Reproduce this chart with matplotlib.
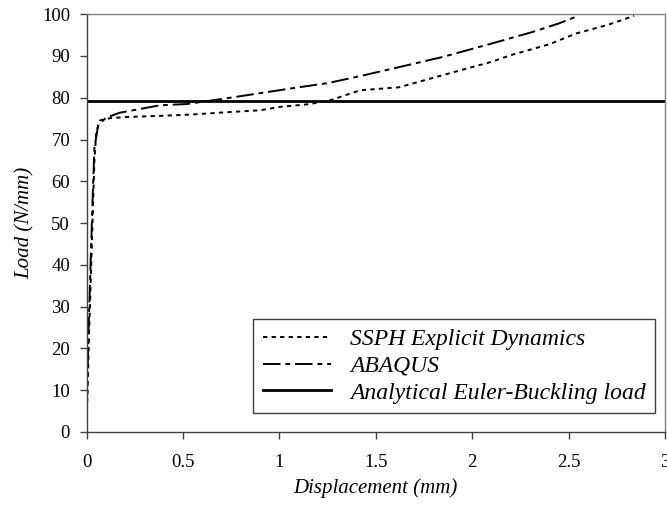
import matplotlib
matplotlib.use('Agg')
import matplotlib.pyplot as plt
import numpy as np

plt.rcParams['font.family'] = ['Liberation Serif', 'DejaVu Serif']

# SSPH explicit dynamics (dotted)
ssph_x = [0.0, 0.005, 0.01, 0.02, 0.03, 0.04, 0.05, 0.07, 0.12, 0.21, 0.40, 0.55, 0.75, 0.90,
          1.00, 1.14, 1.25, 1.42, 1.62, 1.80, 1.94, 2.10, 2.20, 2.40, 2.54, 2.70, 2.84]
ssph_y = [5.0, 10.0, 20.0, 35.0, 50.0, 65.0, 72.0, 74.6, 75.1, 75.4, 75.7, 76.0, 76.6, 77.0,
          77.8, 78.4, 79.2, 81.8, 82.5, 84.8, 86.6, 88.6, 90.2, 92.8, 95.4, 97.4, 99.6]

# ABAQUS (dash-dot)
abq_x = [0.0, 0.005, 0.01, 0.02, 0.03, 0.04, 0.06, 0.10, 0.17, 0.38, 0.52, 0.73, 0.90,
         1.07, 1.25, 1.42, 1.59, 1.85, 2.11, 2.31, 2.45, 2.55]
abq_y = [8.0, 15.0, 25.0, 40.0, 55.0, 68.0, 73.5, 75.2, 76.4, 78.2, 78.5, 79.9, 81.1,
         82.3, 83.5, 85.2, 87.0, 89.8, 93.1, 95.7, 97.8, 99.6]

euler_load = 79.2

fig = plt.figure(figsize=(6.67, 5.07), dpi=100)
ax = fig.add_axes([0.130, 0.148, 0.867, 0.824])

ax.plot(ssph_x, ssph_y, color='black', lw=1.4, dashes=(2.2, 2.2),
        label='SSPH Explicit Dynamics')
ax.plot(abq_x, abq_y, color='black', lw=1.4, dashes=(9, 2.5, 2.5, 2.5),
        label='ABAQUS')
ax.axhline(euler_load, color='black', lw=2.0, label='Analytical Euler-Buckling load')

ax.set_xlim(0, 3)
ax.set_ylim(0, 100)
ax.set_xticks(np.arange(0, 3.01, 0.5))
ax.set_xticklabels(['0', '0.5', '1', '1.5', '2', '2.5', '3'])
ax.set_yticks(np.arange(0, 101, 10))

for s in ax.spines.values():
    s.set_color('#808080')
    s.set_linewidth(1.0)
ax.spines['left'].set_color('#404040')
ax.spines['bottom'].set_color('#404040')
ax.tick_params(direction='out', length=5, width=1.0, color='#404040',
               labelsize=13.5, pad=7)
ax.tick_params(axis='x', pad=11)

ax.set_xlabel('Displacement (mm)', fontsize=15, style='italic', labelpad=5)
ax.set_ylabel('Load (N/mm)', fontsize=15, style='italic', labelpad=5)

leg = ax.legend(loc='lower right', bbox_to_anchor=(0.983, 0.045),
                prop={'style': 'italic', 'size': 17}, handlelength=2.9,
                fancybox=False, framealpha=1, edgecolor='#404040',
                borderpad=0.4, labelspacing=0.22, handletextpad=0.8,
                borderaxespad=0)
leg.get_frame().set_linewidth(1.0)

fig.savefig('out.png', dpi=100)
